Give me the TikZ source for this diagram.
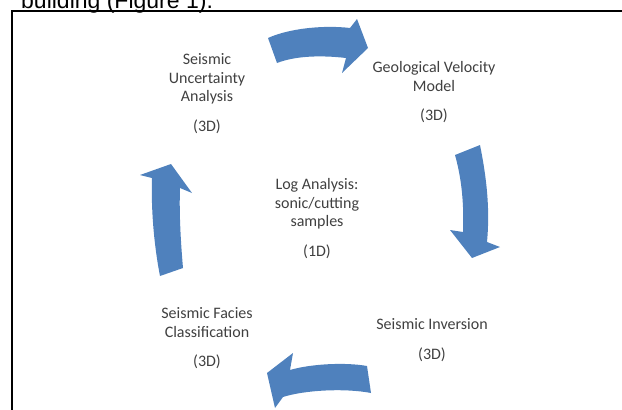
\documentclass[tikz,border=0pt]{standalone}
\usepackage{fontspec}
\setmainfont{Carlito}
\newfontfamily\bodyfont{Liberation Sans}
\definecolor{cycleblue}{HTML}{4F81BD}
\definecolor{labelgrey}{HTML}{404040}

\begin{document}
\begin{tikzpicture}[
  x=1pt,y=-1pt,
  flow/.style={fill=cycleblue},
  frame/.style={draw=black,line width=2pt},
  stage/.style={font=\fontsize{16}{18.5}\selectfont,text=labelgrey,align=center,inner sep=0pt},
  caption/.style={font=\bodyfont\fontsize{23}{27}\selectfont,anchor=base west,inner sep=0pt}
]
  \useasboundingbox (0,0) rectangle (622,410);
  \node[caption] (cap) at (21,8) {building (Figure 1).};
  \draw[frame] (12,410) -- (12,11) -- (622,11);

  % curved block arrows, clockwise
  \fill[flow] (268,38) .. controls (290,28) and (325,25) .. (350,28)
    -- (357,19) -- (368,48) -- (342,73) -- (346,58)
    .. controls (320,55) and (295,56) .. (277,63) -- cycle;
  \fill[flow] (480,145) .. controls (487,180) and (490,210) .. (487,242)
    -- (500,247) -- (472,258) -- (450,230) -- (463,232)
    .. controls (464,205) and (462,180) .. (455,155) -- cycle;
  \fill[flow] (371,393) .. controls (345,388) and (305,390) .. (283,397)
    -- (275,408) -- (267,373) -- (293,353) -- (290,370)
    .. controls (310,364) and (345,362) .. (367,366) -- cycle;
  \fill[flow] (160,276) .. controls (154,245) and (151,210) .. (152,178)
    -- (140,175) -- (171,164) -- (192,193) -- (180,188)
    .. controls (179,215) and (181,245) .. (183,268) -- cycle;

  % stages
  \node[stage] (uncert) at (207,93.5) {Seismic\\Uncertainty\\Analysis\\[11pt](3D)};
  \node[stage] (velocity) at (434,92.5) {Geological Velocity\\Model\\[11pt](3D)};
  \node[stage] (logs) at (317,218.5) {Log Analysis:\\sonic/cutting\\samples\\[11pt](1D)};
  \node[stage] (facies) at (207,338.5) {Seismic Facies\\Classification\\[11pt](3D)};
  \node[stage] (inversion) at (432,340) {Seismic Inversion\\[11pt](3D)};
\end{tikzpicture}
\end{document}
